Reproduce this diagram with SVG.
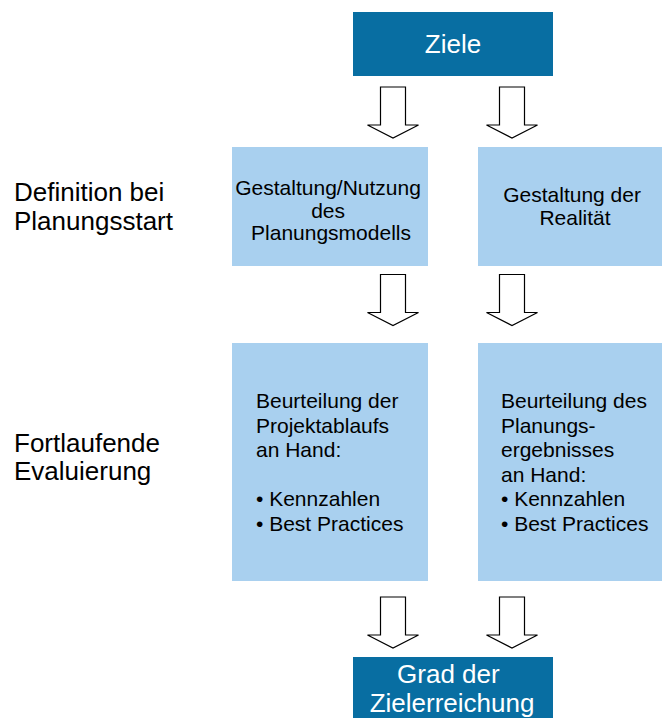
<svg xmlns="http://www.w3.org/2000/svg" width="662" height="718" viewBox="0 0 662 718">
  <defs>
    <!-- hollow block arrow pointing down, origin at the tip's x, shaft top at y=0 -->
    <path id="blockArrow" d="M-12.5,0 H12.5 V38 H25.5 L0,51 L-25.5,38 H-12.5 Z"/>
  </defs>
  <style>
    text { font-family: "Liberation Sans", Arial, sans-serif; }
    .dark { fill: #086EA2; }
    .light { fill: #A9D0EF; }
    .white { fill: #FFFFFF; font-size: 26px; }
    .body { fill: #000000; font-size: 21px; }
    .label { fill: #000000; font-size: 26px; }
    .arrow { fill: #FFFFFF; stroke: #000000; stroke-width: 1.2; stroke-linejoin: miter; }
  </style>
  <rect width="662" height="718" fill="#FFFFFF"/>

  <!-- row labels -->
  <g id="label-definition">
    <text class="label" x="14" y="201">Definition bei</text>
    <text class="label" x="14" y="230">Planungsstart</text>
  </g>
  <g id="label-evaluierung">
    <text class="label" x="14" y="452">Fortlaufende</text>
    <text class="label" x="14" y="480">Evaluierung</text>
  </g>

  <g id="ziele">
    <rect class="dark" x="353" y="12" width="200" height="64"/>
    <text class="white" x="453" y="53" text-anchor="middle">Ziele</text>
  </g>

  <g id="planungsmodell">
    <rect class="light" x="232" y="147" width="196" height="119"/>
    <text class="body" text-anchor="middle">
      <tspan x="331" y="195">Gestaltung/Nutzung</tspan>
      <tspan x="331" y="218">des</tspan>
      <tspan x="331" y="240">Planungsmodells</tspan>
    </text>
  </g>

  <g id="realitaet">
    <rect class="light" x="478" y="147" width="184" height="119"/>
    <text class="body" text-anchor="middle">
      <tspan x="575" y="202">Gestaltung der</tspan>
      <tspan x="575" y="225">Realität</tspan>
    </text>
  </g>

  <g id="projektablauf">
    <rect class="light" x="232" y="343" width="196" height="238"/>
    <text class="body">
      <tspan x="256" y="408">Beurteilung der</tspan>
      <tspan x="256" y="432.5">Projektablaufs</tspan>
      <tspan x="256" y="457">an Hand:</tspan>
      <tspan x="256" y="506">• Kennzahlen</tspan>
      <tspan x="256" y="531">• Best Practices</tspan>
    </text>
  </g>

  <g id="planungsergebnis">
    <rect class="light" x="478" y="343" width="184" height="238"/>
    <text class="body">
      <tspan x="501" y="408">Beurteilung des</tspan>
      <tspan x="501" y="432.5">Planungs-</tspan>
      <tspan x="501" y="457">ergebnisses</tspan>
      <tspan x="501" y="481.5">an Hand:</tspan>
      <tspan x="501" y="506">• Kennzahlen</tspan>
      <tspan x="501" y="531">• Best Practices</tspan>
    </text>
  </g>

  <g id="zielerreichung">
    <rect class="dark" x="353" y="657" width="200" height="61"/>
    <text class="white" text-anchor="middle">
      <tspan x="452" y="683">Grad der</tspan>
      <tspan x="452" y="712">Zielerreichung</tspan>
    </text>
  </g>

  <g id="connectors">
    <use href="#blockArrow" class="arrow" x="393" y="87"/>
    <use href="#blockArrow" class="arrow" x="512" y="87"/>
    <use href="#blockArrow" class="arrow" x="393" y="274.5"/>
    <use href="#blockArrow" class="arrow" x="512" y="274.5"/>
    <use href="#blockArrow" class="arrow" x="393" y="597"/>
    <use href="#blockArrow" class="arrow" x="512" y="597"/>
  </g>
</svg>
